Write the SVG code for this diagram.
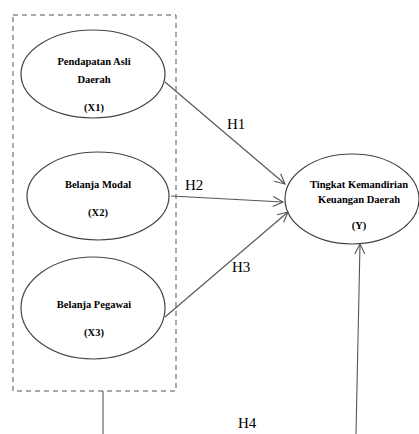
<svg xmlns="http://www.w3.org/2000/svg" width="419" height="434" viewBox="0 0 419 434">
<style>
.node ellipse{fill:#fff;stroke:#444;stroke-width:1.2}
.nt{font-family:'Liberation Serif','DejaVu Serif',serif;font-weight:bold;font-size:10.5px;fill:#000;text-anchor:middle}
.lbl{font-family:'Liberation Serif','DejaVu Serif',serif;font-size:15px;fill:#000}
.conn line{stroke:#555;stroke-width:1.1;fill:none}
</style>
<defs>
<marker id="arr" viewBox="0 0 12 12" refX="11" refY="6" markerWidth="12" markerHeight="12" markerUnits="userSpaceOnUse" orient="auto">
<path d="M1,1 L11,6 L1,11" fill="none" stroke="#555" stroke-width="1.1"/>
</marker>
</defs>
<rect id="group-box" x="13" y="15" width="163" height="376" fill="none" stroke="#555" stroke-width="1" stroke-dasharray="5,4"/>
<g id="x1" class="node">
<ellipse cx="93" cy="74" rx="72" ry="44"/>
<text class="nt" x="94" y="65">Pendapatan Asli</text>
<text class="nt" x="94" y="83">Daerah</text>
<text class="nt" x="94" y="111">(X1)</text>
</g>
<g id="x2" class="node">
<ellipse cx="98" cy="196" rx="71" ry="44"/>
<text class="nt" x="98" y="188">Belanja Modal</text>
<text class="nt" x="98" y="216">(X2)</text>
</g>
<g id="x3" class="node">
<ellipse cx="93" cy="308" rx="72" ry="51"/>
<text class="nt" x="94" y="308">Belanja Pegawai</text>
<text class="nt" x="94" y="336">(X3)</text>
</g>
<g id="y" class="node">
<ellipse cx="352" cy="199" rx="67" ry="45"/>
<text class="nt" x="359" y="188">Tingkat Kemandirian</text>
<text class="nt" x="359" y="203">Keuangan Daerah</text>
<text class="nt" x="359" y="229">(Y)</text>
</g>
<g id="connectors" class="conn">
<line x1="165" y1="82" x2="285" y2="184" marker-end="url(#arr)"/>
<line x1="171" y1="196" x2="283" y2="202" marker-end="url(#arr)"/>
<line x1="165" y1="317" x2="288" y2="212" marker-end="url(#arr)"/>
<line x1="356" y1="434" x2="360" y2="244" marker-end="url(#arr)"/>
<line x1="103" y1="391" x2="103" y2="434"/>
</g>
<g id="labels">
<text class="lbl" x="227" y="129">H1</text>
<text class="lbl" x="185" y="190">H2</text>
<text class="lbl" x="232" y="272">H3</text>
<text class="lbl" x="238" y="428">H4</text>
</g>
</svg>
